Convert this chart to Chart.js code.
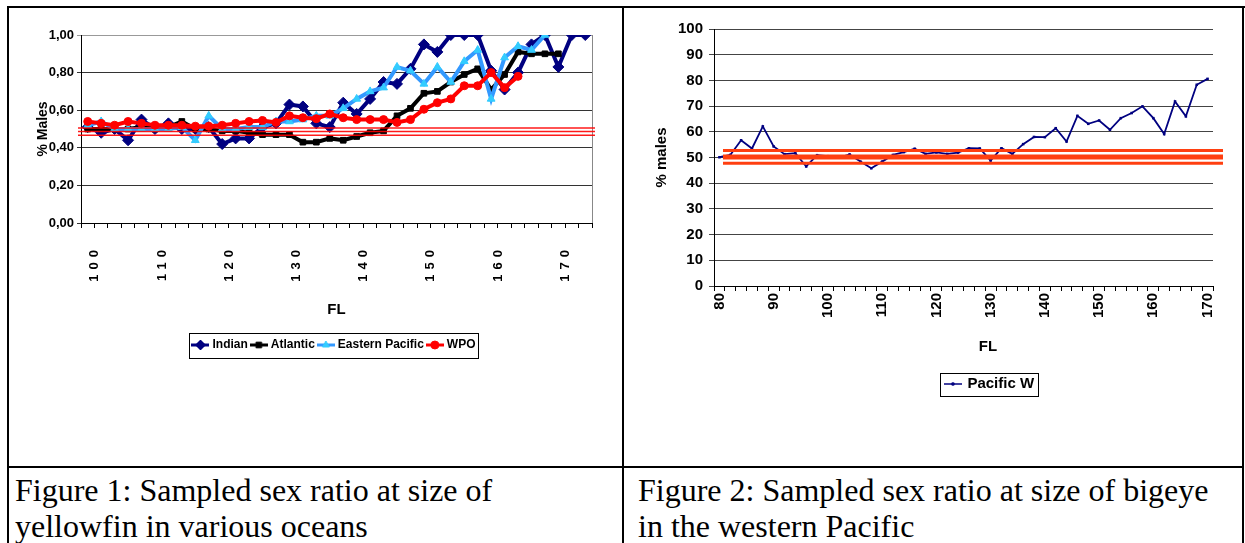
<!DOCTYPE html>
<html>
<head>
<meta charset="utf-8">
<title>Sex ratio at size</title>
<script src="https://cdn.jsdelivr.net/npm/chart.js@4.4.1/dist/chart.umd.min.js"></script>
<style>
  html,body{margin:0;padding:0;background:#fff;}
  body{position:relative;width:1245px;height:543px;overflow:hidden;}
  canvas{position:absolute;}
  .ln{position:absolute;background:#000;}
  .cap{position:absolute;top:472px;font-family:"Liberation Serif","Times New Roman",serif;font-size:32px;line-height:36px;color:#000;white-space:nowrap;}
</style>
</head>
<body>
<canvas id="chartYft" width="613" height="458" style="left:9px;top:8px"></canvas>
<canvas id="chartBet" width="616" height="458" style="left:625px;top:8px"></canvas>

<div class="ln" style="left:7px;top:6px;width:1238px;height:2px"></div>
<div class="ln" style="left:7px;top:6px;width:2px;height:537px"></div>
<div class="ln" style="left:622px;top:6px;width:2px;height:537px"></div>
<div class="ln" style="left:1242px;top:6px;width:2px;height:537px"></div>
<div class="ln" style="left:7px;top:466px;width:1237px;height:2px"></div>

<div class="cap" style="left:15px">Figure 1: Sampled sex ratio at size of<br>yellowfin in various oceans</div>
<div class="cap" style="left:638px">Figure 2: Sampled sex ratio at size of bigeye<br>in the western Pacific</div>

<script>
// ===== DADOS: FIGURA 1 (yellowfin) =====
const flYft = [100,102,104,106,108,110,112,114,116,118,120,122,124,126,128,130,132,134,136,138,
               140,142,144,146,148,150,152,154,156,158,160,162,164,166,168,170,172,174];
const indian   = [0.51,0.48,0.50,0.44,0.55,0.50,0.53,0.50,0.50,0.51,0.42,0.45,0.45,0.51,0.53,0.63,0.62,0.53,0.51,0.64,
                  0.58,0.66,0.75,0.74,0.82,0.95,0.91,1.00,1.00,1.00,0.81,0.71,0.80,0.95,1.00,0.83,1.00,1.00];
const atlantic = [0.50,0.50,0.50,0.50,0.51,0.50,0.51,0.54,0.50,0.50,0.49,0.49,0.48,0.47,0.47,0.47,0.43,0.43,0.45,0.44,
                  0.46,0.48,0.49,0.57,0.61,0.69,0.70,0.75,0.79,0.82,0.71,0.79,0.91,0.90,0.90,0.90,null,null];
const eastPac  = [0.52,0.54,0.50,0.50,0.50,0.50,0.50,0.51,0.44,0.57,0.50,0.50,0.51,0.51,0.54,0.54,0.55,0.57,0.57,0.61,
                  0.66,0.70,0.72,0.83,0.81,0.74,0.83,0.75,0.86,0.92,0.66,0.88,0.94,0.92,1.00,null,null,null];
const wpo      = [0.54,0.53,0.52,0.54,0.53,0.52,0.52,0.52,0.515,0.515,0.52,0.53,0.54,0.545,0.535,0.57,0.56,0.555,0.58,0.56,
                  0.55,0.55,0.55,0.535,0.55,0.605,0.64,0.66,0.73,0.73,0.80,0.72,0.78,null,null,null,null,null];
const yftTickLabels = [100,110,120,130,140,150,160,170];
const yftRefLines = [0.505, 0.487, 0.467];

// ===== DADOS: FIGURA 2 (bigeye) =====
const flBet = [80,82,84,86,88,90,92,94,96,98,100,102,104,106,108,110,112,114,116,118,120,122,124,
               126,128,130,132,134,136,138,140,142,144,146,148,150,152,154,156,158,160,162,164,166,168,170];
const pacificW = [50.1,51,56.7,53.5,62.1,54.3,51.3,51.7,46.5,50.9,50.5,50,51.2,48.4,45.8,48.4,51,52.1,53.4,51.4,52,51.4,51.9,
                  53.6,53.5,48.8,53.6,51.4,55.2,58,57.9,61.4,56.2,66.2,63.1,64.4,60.8,65.3,67.3,69.9,65.3,59.1,71.8,66,78.3,80.6];
const betTickLabels = [80,90,100,110,120,130,140,150,160,170];
const betRefLines = [52.7, 50.2, 47.8];

// ===== FONTES =====
const ARIAL = '"Liberation Sans",Arial,sans-serif';

// ===== PLUGIN: linhas de referência, moldura, caixa da legenda, ajustes de posição =====
const linhasRef = {
  id: 'linhasRef',
  afterLayout(chart, args, o){
    const lg = chart.legend;
    if(lg && o.legendDx){ lg.left += o.legendDx; lg.right += o.legendDx; }
    const sx = chart.scales.x;
    if(sx._ajustado) return;
    const c = sx.ctx;
    if(o.letterSpacing){
      const origL = sx.drawLabels.bind(sx);
      sx.drawLabels = function(area){ c.save(); c.letterSpacing = o.letterSpacing; origL(area); c.restore(); };
    }
    if(o.titleDx){
      const origT = sx.drawTitle.bind(sx);
      sx.drawTitle = function(){ c.save(); c.translate(o.titleDx, 0); origT(); c.restore(); };
    }
    sx._ajustado = true;
  },
  afterDatasetsDraw(chart, args, o){
    const {ctx, chartArea:a, scales:{y}} = chart;
    ctx.save();
    if(o.frameRight){
      ctx.strokeStyle = o.frameRight; ctx.lineWidth = 1;
      ctx.beginPath(); ctx.moveTo(a.right+0.5, a.top); ctx.lineTo(a.right+0.5, a.bottom); ctx.stroke();
    }
    o.values.forEach((v,i)=>{
      const py = y.getPixelForValue(v);
      ctx.strokeStyle = o.color; ctx.lineWidth = o.widths[i];
      ctx.beginPath(); ctx.moveTo(a.left+o.from, py); ctx.lineTo(a.right+o.to, py); ctx.stroke();
    });
    ctx.restore();
  },
  afterDraw(chart, args, o){
    const lg = chart.legend;
    if(!lg || !lg.legendHitBoxes || !lg.legendHitBoxes.length) return;
    const hb = lg.legendHitBoxes, p = o.boxPad, ctx = chart.ctx;
    const x0 = Math.min(...hb.map(h=>h.left)) - p[0];
    const x1 = Math.max(...hb.map(h=>h.left+h.width)) + p[1];
    const y0 = Math.min(...hb.map(h=>h.top)) - p[2];
    const y1 = Math.max(...hb.map(h=>h.top+h.height)) + p[3];
    ctx.save();
    ctx.strokeStyle = '#000'; ctx.lineWidth = 1;
    ctx.strokeRect(Math.round(x0)+0.5, Math.round(y0)+0.5, Math.round(x1-x0), Math.round(y1-y0));
    ctx.restore();
  }
};

// ícone da legenda: traço + marcador
function icone(cor, corMarca, estilo, raio, largura, espessura){
  const c = document.createElement('canvas');
  c.width = largura; c.height = 14;
  const g = c.getContext('2d');
  g.strokeStyle = cor; g.lineWidth = espessura;
  g.beginPath(); g.moveTo(0,7); g.lineTo(largura,7); g.stroke();
  g.fillStyle = corMarca; g.strokeStyle = corMarca; g.lineWidth = 1;
  Chart.helpers.drawPoint(g, {pointStyle: estilo, radius: raio, rotation: 0, borderWidth: 1}, largura/2, 7);
  return c;
}

function legendaDe(chart, icones){
  return chart.data.datasets.map((ds,i)=>({
    text: ds.label, pointStyle: icones[i], fillStyle: ds.borderColor, strokeStyle: ds.borderColor,
    lineWidth: 0, hidden: false, datasetIndex: i, fontColor: '#000'
  }));
}

// ===== FIGURA 1 =====
const iconesYft = [
  icone('#000080','#000080','rectRot',5,18,3),
  icone('#000000','#000000','rect',4,18,3),
  icone('#3399FF','#33CCFF','triangle',4,18,3),
  icone('#FF0000','#FF0000','circle',4,18,3)
];
new Chart(document.getElementById('chartYft'), {
  type: 'line',
  data: {
    labels: flYft,
    datasets: [
      {label:'Indian', data:indian, borderColor:'#000080', backgroundColor:'#000080', borderWidth:4,
       pointStyle:'rectRot', pointRadius:5.5, pointBorderWidth:1, order:4},
      {label:'Atlantic', data:atlantic, borderColor:'#000000', backgroundColor:'#000000', borderWidth:4,
       pointStyle:'rect', pointRadius:4, pointBorderWidth:1, order:3},
      {label:'Eastern Pacific', data:eastPac, borderColor:'#3399FF', backgroundColor:'#33CCFF', pointBorderColor:'#33CCFF',
       borderWidth:4, pointStyle:'triangle', pointRadius:4.5, pointBorderWidth:1, order:2},
      {label:'WPO', data:wpo, borderColor:'#FF0000', backgroundColor:'#FF0000', borderWidth:4,
       pointStyle:'circle', pointRadius:4, pointBorderWidth:1, order:1}
    ]
  },
  options: {
    responsive:false, animation:false, events:[],
    layout:{padding:{top:27, right:30, left:0, bottom:105}},
    scales:{
      x:{
        offset:true,
        afterFit(s){ s.height = 111; },
        grid:{display:true, drawOnChartArea:false, drawTicks:true, tickLength:5, color:'#000', offset:true},
        border:{display:true, color:'#000', width:1},
        ticks:{autoSkip:false, minRotation:90, maxRotation:90, padding:17, labelOffset:7, color:'#000',
               font:{family:ARIAL, size:13, weight:'bold'},
               callback(v,i){ const f = flYft[i]; return yftTickLabels.includes(f) ? String(f) : ''; }},
        title:{display:true, text:'FL', color:'#000', font:{family:ARIAL, size:15, weight:'bold'}, padding:{top:0,bottom:15.5}}
      },
      y:{
        min:0, max:1,
        afterFit(s){ s.width = 72; },
        grid:{color:(c)=> c.tick && c.tick.value===1 ? '#999' : '#333', tickLength:4, drawTicks:true},
        border:{display:true, color:'#000', width:1},
        ticks:{stepSize:0.2, padding:3, color:'#000', font:{family:ARIAL, size:13, weight:'bold'},
               callback:(v)=> v.toFixed(2).replace('.', ',')},
        title:{display:true, text:'% Males', color:'#000', font:{family:ARIAL, size:14, weight:'bold'}, padding:{top:26,bottom:0}}
      }
    },
    plugins:{
      legend:{position:'bottom', labels:{usePointStyle:true, pointStyleWidth:12, padding:5, color:'#000',
              font:{family:ARIAL, size:12, weight:'bold'},
              generateLabels:(ch)=>legendaDe(ch, iconesYft)}},
      tooltip:{enabled:false},
      linhasRef:{values:yftRefLines, widths:[1.6,1.6,1.6], color:'rgba(255,0,0,0.9)', from:-3, to:3,
                 frameRight:'#888', boxPad:[5,3,6.5,6.5], letterSpacing:'5px', legendDx:34.5}
    }
  },
  plugins:[linhasRef]
});

// ===== FIGURA 2 =====
const iconesBet = [ icone('#000080','#000080','rect',1.6,18,1.5) ];
new Chart(document.getElementById('chartBet'), {
  type: 'line',
  data: {
    labels: flBet,
    datasets: [
      {label:'Pacific W', data:pacificW, borderColor:'#000080', backgroundColor:'#000080', borderWidth:1.8,
       pointStyle:'rect', pointRadius:1.8, pointBorderWidth:0}
    ]
  },
  options: {
    responsive:false, animation:false, events:[],
    layout:{padding:{top:21, right:28, left:0, bottom:64.5}},
    scales:{
      x:{
        offset:true,
        afterFit(s){ s.height = 86.5; },
        grid:{display:true, drawOnChartArea:false, drawTicks:true, tickLength:5, color:'#000', offset:true},
        border:{display:true, color:'#000', width:1},
        ticks:{autoSkip:false, minRotation:90, maxRotation:90, padding:2, color:'#000',
               font:{family:ARIAL, size:15, weight:'bold'},
               callback(v,i){ const f = flBet[i]; return betTickLabels.includes(f) ? String(f) : ''; }},
        title:{display:true, text:'FL', color:'#000', font:{family:ARIAL, size:15, weight:'bold'}, padding:{top:0,bottom:16.5}}
      },
      y:{
        min:0, max:100,
        afterFit(s){ s.width = 89; },
        grid:{color:'#444', tickLength:5, drawTicks:true},
        border:{display:true, color:'#000', width:1},
        ticks:{stepSize:10, padding:6, color:'#000', font:{family:ARIAL, size:15, weight:'bold'}},
        title:{display:true, text:'% males', color:'#000', font:{family:ARIAL, size:15, weight:'bold'}, padding:{top:27.7,bottom:0}}
      }
    },
    plugins:{
      legend:{position:'bottom', labels:{usePointStyle:true, pointStyleWidth:14, padding:4, color:'#000',
              font:{family:ARIAL, size:15, weight:'bold'},
              generateLabels:(ch)=>legendaDe(ch, iconesBet)}},
      tooltip:{enabled:false},
      linhasRef:{values:betRefLines, widths:[3,5,3], color:'#FF3F10', from:9, to:10, boxPad:[6,4,4,4],
                 legendDx:71, titleDx:24.5}
    }
  },
  plugins:[linhasRef]
});
</script>
</body>
</html>
